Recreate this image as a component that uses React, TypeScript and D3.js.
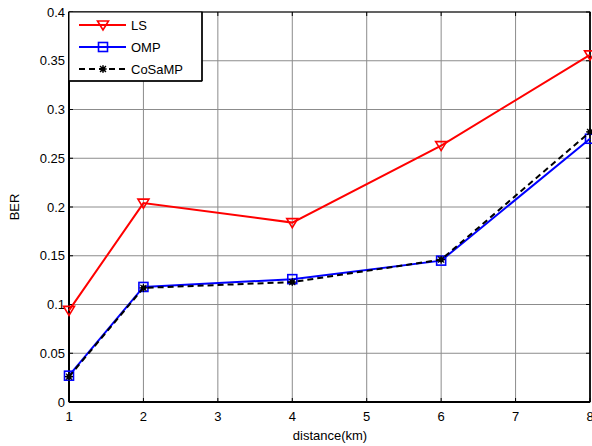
import React from "react";
import * as d3 from "d3";

const distances = [1, 2, 4, 6, 8];
const berLS = [0.094, 0.204, 0.184, 0.263, 0.356];
const berOMP = [0.027, 0.118, 0.126, 0.145, 0.27];
const berCoSaMP = [0.026, 0.117, 0.123, 0.146, 0.277];
const xTicks = [1, 2, 3, 4, 5, 6, 7, 8];
const yTicks = [0, 0.05, 0.1, 0.15, 0.2, 0.25, 0.3, 0.35, 0.4];
const seriesNames = ["LS", "OMP", "CoSaMP"];

const W = 592, H = 446;
const L = 69, R = 590, T = 12, B = 402;

export default function App() {
  const x = d3.scaleLinear().domain([1, 8]).range([L, R]);
  const y = d3.scaleLinear().domain([0, 0.4]).range([B, T]);
  const line = d3.line<number>().x((_, i) => x(distances[i])).y((d) => y(d));
  const font = "Liberation Sans, Arial, sans-serif";

  const tri = (cx: number, cy: number, k: string) => (
    <path key={k} d={`M${cx - 5.5},${cy - 4} L${cx + 5.5},${cy - 4} L${cx},${cy + 5} Z`} fill="none" stroke="#ff0000" strokeWidth={1.6} />
  );
  const sq = (cx: number, cy: number, k: string) => (
    <rect key={k} x={cx - 4.5} y={cy - 4.5} width={9} height={9} fill="none" stroke="#0000ff" strokeWidth={1.6} />
  );
  const star = (cx: number, cy: number, k: string) => (
    <g key={k}>
      <circle cx={cx} cy={cy} r={2.6} fill="#000" />
      <path d={`M${cx - 4},${cy} L${cx + 4},${cy} M${cx},${cy - 4} L${cx},${cy + 4} M${cx - 3},${cy - 3} L${cx + 3},${cy + 3} M${cx - 3},${cy + 3} L${cx + 3},${cy - 3}`} stroke="#000" strokeWidth={1.2} />
    </g>
  );

  const series = [
    { data: berLS, color: "#ff0000", dash: undefined as string | undefined, marker: tri },
    { data: berOMP, color: "#0000ff", dash: undefined, marker: sq },
    { data: berCoSaMP, color: "#000000", dash: "6,4", marker: star },
  ];

  return (
    <svg width={W} height={H} style={{ position: "absolute", left: 0, top: 0, background: "#fff" }}>
      <rect x={0} y={0} width={W} height={H} fill="#fff" />
      {/* grid */}
      {xTicks.map((t) => (
        <line key={"gx" + t} x1={x(t)} x2={x(t)} y1={T} y2={B} stroke="#8c8c8c" strokeWidth={1} />
      ))}
      {yTicks.map((t) => (
        <line key={"gy" + t} x1={L} x2={R} y1={y(t)} y2={y(t)} stroke="#8c8c8c" strokeWidth={1} />
      ))}
      {/* ticks */}
      {xTicks.map((t) => (
        <g key={"tx" + t}>
          <line x1={x(t)} x2={x(t)} y1={B} y2={B - 4} stroke="#000" />
          <line x1={x(t)} x2={x(t)} y1={T} y2={T + 4} stroke="#000" />
          <text x={x(t)} y={B + 19} textAnchor="middle" fontFamily={font} fontSize={13}>{t}</text>
        </g>
      ))}
      {yTicks.map((t) => (
        <g key={"ty" + t}>
          <line x1={L} x2={L + 4} y1={y(t)} y2={y(t)} stroke="#000" />
          <line x1={R} x2={R - 4} y1={y(t)} y2={y(t)} stroke="#000" />
          <text x={L - 4} y={y(t) + 4.5} textAnchor="end" fontFamily={font} fontSize={13}>{String(t)}</text>
        </g>
      ))}
      {/* frame */}
      <rect x={L} y={T} width={R - L} height={B - T} fill="none" stroke="#000" strokeWidth={1} />
      <line x1={L} x2={L} y1={T} y2={B} stroke="#000" strokeWidth={2} />
      <line x1={L} x2={R} y1={B} y2={B} stroke="#000" strokeWidth={2} />
      <line x1={R} x2={R} y1={T} y2={B} stroke="#000" strokeWidth={1.5} />
      {/* series */}
      {series.map((s, si) => (
        <g key={"s" + si}>
          <path d={line(s.data) || ""} fill="none" stroke={s.color} strokeWidth={2} strokeDasharray={s.dash} />
          {s.data.map((v, i) => s.marker(x(distances[i]), y(v), `m${si}-${i}`))}
        </g>
      ))}
      {/* legend */}
      <rect x={L} y={T} width={133} height={69} fill="#fff" stroke="#000" strokeWidth={1} />
      <line x1={202} x2={202} y1={T} y2={T + 69} stroke="#000" strokeWidth={1.5} />
      <line x1={L} x2={202} y1={T + 69} y2={T + 69} stroke="#000" strokeWidth={1.5} />
      {series.map((s, si) => {
        const ly = 25 + si * 22;
        return (
          <g key={"lg" + si}>
            <line x1={79} x2={126} y1={ly} y2={ly} stroke={s.color} strokeWidth={2} strokeDasharray={s.dash} />
            {s.marker(103, ly, "lm" + si)}
            <text x={131} y={ly + 5} fontFamily={font} fontSize={13}>{seriesNames[si]}</text>
          </g>
        );
      })}
      {/* axis labels */}
      <text x={330} y={440} textAnchor="middle" fontFamily={font} fontSize={13}>distance(km)</text>
      <text transform={`translate(19,${(T + B) / 2}) rotate(-90)`} textAnchor="middle" fontFamily={font} fontSize={13}>BER</text>
    </svg>
  );
}
